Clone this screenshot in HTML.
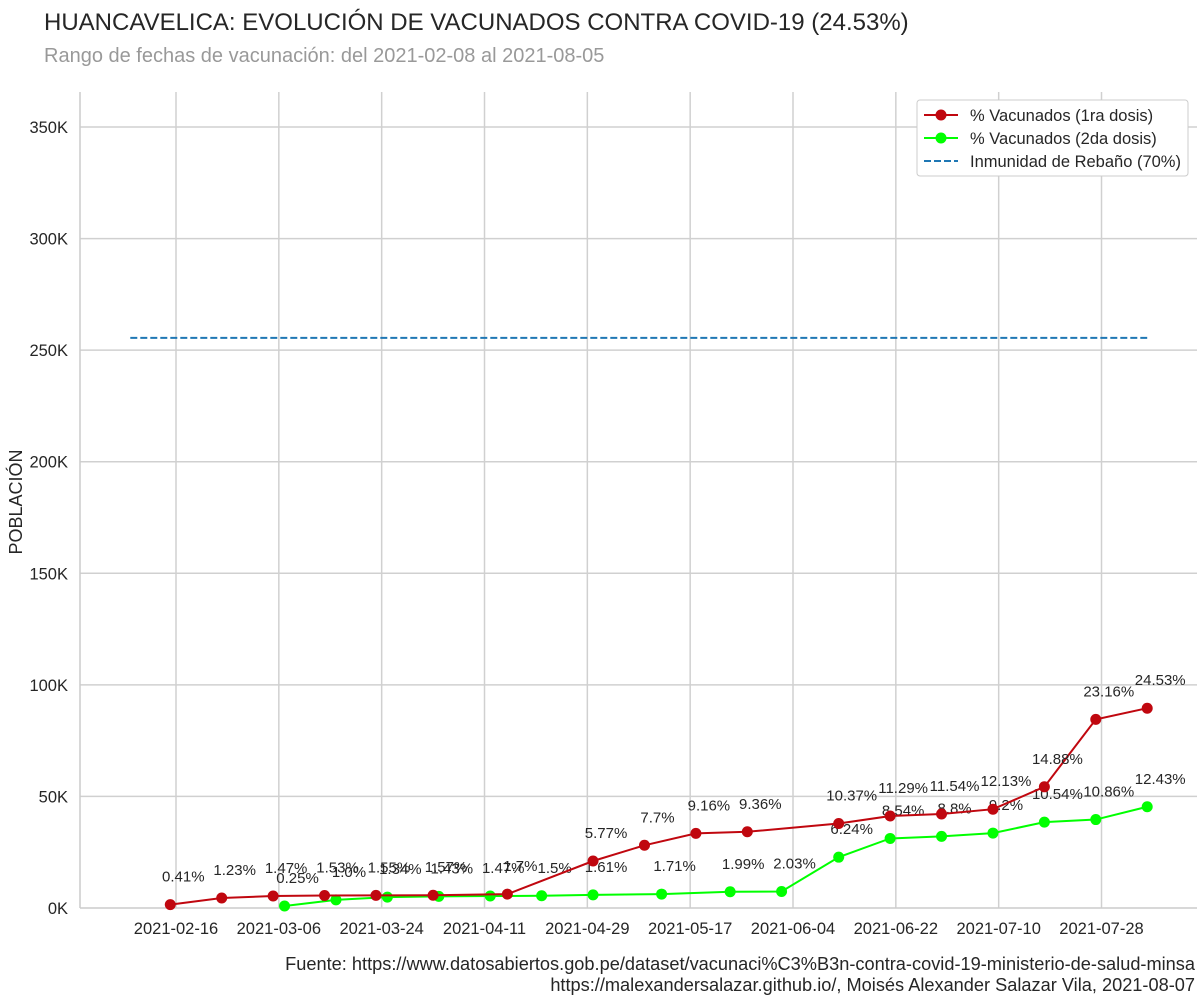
<!DOCTYPE html>
<html><head><meta charset="utf-8">
<style>
body{margin:0;background:#fff;font-family:"Liberation Sans",sans-serif;}
svg text{font-family:"Liberation Sans",sans-serif;}
</style></head>
<body>
<svg id="chart" width="1203" height="1001" xmlns="http://www.w3.org/2000/svg">
<text x="44" y="30" font-size="24" fill="#262626">HUANCAVELICA: EVOLUCIÓN DE VACUNADOS CONTRA COVID-19 (24.53%)</text>
<text x="44" y="62" font-size="20" fill="#999">Rango de fechas de vacunación: del 2021-02-08 al 2021-08-05</text>
<g id="grid"></g>
<g id="marks"></g>
<text transform="translate(22,502) rotate(-90)" text-anchor="middle" font-size="18" fill="#262626">POBLACIÓN</text>
<g>
<rect x="917" y="100" width="271" height="76" rx="3" fill="#fff" stroke="#ccc"/>
<g><line x1="924" y1="115" x2="958" y2="115" stroke="#c0070f" stroke-width="2"/><circle cx="941" cy="115" r="5.5" fill="#c0070f"/><text x="970" y="121" font-size="16.5" fill="#262626">% Vacunados (1ra dosis)</text></g>
<g><line x1="924" y1="138" x2="958" y2="138" stroke="#00ff00" stroke-width="2"/><circle cx="941" cy="138" r="5.5" fill="#00ff00"/><text x="970" y="144" font-size="16.5" fill="#262626">% Vacunados (2da dosis)</text></g>
<g><line x1="924" y1="161" x2="958" y2="161" stroke="#1f77b4" stroke-width="2" stroke-dasharray="7,3"/><text x="970" y="167" font-size="16.5" fill="#262626">Inmunidad de Rebaño (70%)</text></g>
</g>
<text x="1195" y="970" text-anchor="end" font-size="18.2" fill="#262626">Fuente: https://www.datosabiertos.gob.pe/dataset/vacunaci%C3%B3n-contra-covid-19-ministerio-de-salud-minsa</text>
<text x="1195" y="991" text-anchor="end" font-size="18.2" fill="#262626">https://malexandersalazar.github.io/, Moisés Alexander Salazar Vila, 2021-08-07</text>
</svg>
<script>
const population = 365000;
const dates1 = ["2021-02-15","2021-02-24","2021-03-05","2021-03-14","2021-03-23","2021-04-02","2021-04-15","2021-04-30","2021-05-09","2021-05-18","2021-05-27","2021-06-12","2021-06-21","2021-06-30","2021-07-09","2021-07-18","2021-07-27","2021-08-05"];
const pct1 = ["0.41","1.23","1.47","1.53","1.55","1.57","1.7","5.77","7.7","9.16","9.36","10.37","11.29","11.54","12.13","14.88","23.16","24.53"];
const dates2 = ["2021-03-07","2021-03-16","2021-03-25","2021-04-03","2021-04-12","2021-04-21","2021-04-30","2021-05-12","2021-05-24","2021-06-02","2021-06-12","2021-06-21","2021-06-30","2021-07-09","2021-07-18","2021-07-27","2021-08-05"];
const pct2 = ["0.25","1.0","1.34","1.43","1.47","1.5","1.61","1.71","1.99","2.03","6.24","8.54","8.8","9.2","10.54","10.86","12.43"];
const herdPct = 70;
const herdRange = ["2021-02-08","2021-08-05"];
const xTicks = ["2021-02-16","2021-03-06","2021-03-24","2021-04-11","2021-04-29","2021-05-17","2021-06-04","2021-06-22","2021-07-10","2021-07-28"];
const yTicks = [0,50000,100000,150000,200000,250000,300000,350000];
const yTickLabels = ["0K","50K","100K","150K","200K","250K","300K","350K"];

const L=80,R=1197,T=92,B=908;
const day0 = Date.parse("2021-02-16");
function x(d){return 176 + (Date.parse(d)-day0)/86400000*5.713;}
function y(v){return B - v/1000*2.2314;}
const NS="http://www.w3.org/2000/svg";
function mk(parent,tag,attrs){const e=document.createElementNS(NS,tag);for(const k in attrs)e.setAttribute(k,attrs[k]);parent.appendChild(e);return e;}
const grid=document.getElementById('grid'), marks=document.getElementById('marks');
yTicks.forEach((v,i)=>{
  if(v>0){const g=mk(grid,'line',{x1:L,x2:R,y1:y(v),y2:y(v),stroke:'#d0d0d0','stroke-width':1.5});
  
  }
  const t=mk(grid,'text',{x:68,y:y(v)+6,'text-anchor':'end','font-size':16.5,fill:'#262626'});t.textContent=yTickLabels[i];
  
  
});
xTicks.forEach(d=>{
  const g=mk(grid,'line',{x1:x(d),x2:x(d),y1:T,y2:B,stroke:'#d0d0d0','stroke-width':1.5});
  
  
  const t=mk(grid,'text',{x:x(d),y:934,'text-anchor':'middle','font-size':16.5,fill:'#262626'});t.textContent=d;
  
  
});
const sp1=mk(grid,'line',{x1:L,x2:L,y1:T,y2:B,stroke:'#ccc','stroke-width':1.5});


const sp2=mk(grid,'line',{x1:L,x2:R,y1:B,y2:B,stroke:'#ccc','stroke-width':1.5});



const herd=mk(marks,'line',{x1:x(herdRange[0]),x2:x(herdRange[1]),y1:y(population*herdPct/100),y2:y(population*herdPct/100),stroke:'#1f77b4','stroke-width':2,'stroke-dasharray':'7,3'});



function series(dates,pct,color,name){
  const pts=dates.map((d,i)=>[x(d),y(population*parseFloat(pct[i])/100)]);
  const pl=mk(marks,'polyline',{points:pts.map(p=>p.join(',')).join(' '),fill:'none',stroke:color,'stroke-width':2});
  
  
  pts.forEach((p,i)=>{
    const c=mk(marks,'circle',{cx:p[0],cy:p[1],r:5.5,fill:color});
    
    
  });
  pts.forEach((p,i)=>{
    const t=mk(marks,'text',{x:p[0]+13,y:p[1]-23,'text-anchor':'middle','font-size':15,fill:'#262626'});
    t.textContent=pct[i]+'%';
    
    
  });
}
series(dates2,pct2,'#00ff00','dose2');
series(dates1,pct1,'#c0070f','dose1');
</script>
</body></html>
